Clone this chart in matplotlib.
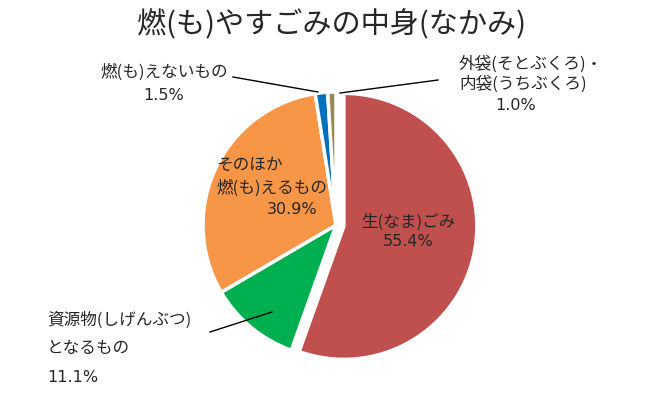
import matplotlib
matplotlib.use("Agg")
import matplotlib.pyplot as plt

plt.rcParams['font.family'] = ['Noto Sans CJK JP', 'DejaVu Sans']

title = "燃(も)やすごみの中身(なかみ)"
categories = ["生(なま)ごみ", "資源物(しげんぶつ)となるもの", "そのほか燃(も)えるもの",
              "燃(も)えないもの", "外袋(そとぶくろ)・内袋(うちぶくろ)"]
values = [55.4, 11.1, 30.9, 1.5, 1.0]
colors = ["#C0504D", "#00B050", "#F79646", "#0070C0", "#948A54"]
explode_frac = [0.06, 0, 0, 0, 0]

W, H = 660, 397
fig = plt.figure(figsize=(W / 100, H / 100), dpi=100)
ax = fig.add_axes([0, 0, 1, 1])

def Y(y):
    return H - y

cx, cy, r = 336, 225, 133
ax.pie(values, colors=colors, explode=[e * r for e in explode_frac],
       startangle=90, counterclock=False,
       center=(cx, Y(cy)), radius=r, frame=True,
       wedgeprops=dict(edgecolor='white', linewidth=2.5))
ax.set_xlim(0, W)
ax.set_ylim(0, H)
ax.set_aspect('equal')
ax.axis('off')

tc = '#262626'
fs = 12
pf = dict(fontsize=11.5, color=tc, family=['DejaVu Sans'])
ax.text(331, Y(25), title, ha='center', va='center', fontsize=21, color=tc)

# 生ごみ
ax.text(408, Y(222), "生(なま)ごみ", ha='center', va='center', fontsize=fs, color=tc)
ax.text(408, Y(242), f"{values[0]:.1f}%", ha='center', va='center', **pf)

# 資源物
ax.text(47, Y(320), "資源物(しげんぶつ)", ha='left', va='center', fontsize=fs, color=tc)
ax.text(47, Y(349), "となるもの", ha='left', va='center', fontsize=fs, color=tc)
ax.text(47, Y(378), f"{values[1]:.1f}%", ha='left', va='center', **pf)
ax.plot([210, 272], [Y(332), Y(312)], color='black', lw=1)

# そのほか
ax.text(216, Y(165), "そのほか", ha='left', va='center', fontsize=fs, color=tc)
ax.text(216, Y(188), "燃(も)えるもの", ha='left', va='center', fontsize=fs, color=tc)
ax.text(292, Y(209), f"{values[2]:.1f}%", ha='center', va='center', **pf)

# 燃えないもの
ax.text(164, Y(72), "燃(も)えないもの", ha='center', va='center', fontsize=fs, color=tc)
ax.text(164, Y(96), f"{values[3]:.1f}%", ha='center', va='center', **pf)
ax.plot([233, 318], [Y(77), Y(92)], color='black', lw=1)

# 外袋・内袋
ax.text(459, Y(64), "外袋(そとぶくろ)・", ha='left', va='center', fontsize=fs, color=tc)
ax.text(459, Y(84), "内袋(うちぶくろ)", ha='left', va='center', fontsize=fs, color=tc)
ax.text(516, Y(106), f"{values[4]:.1f}%", ha='center', va='center', **pf)
ax.plot([438, 340], [Y(80), Y(93)], color='black', lw=1)

fig.savefig("out.png", dpi=100)
